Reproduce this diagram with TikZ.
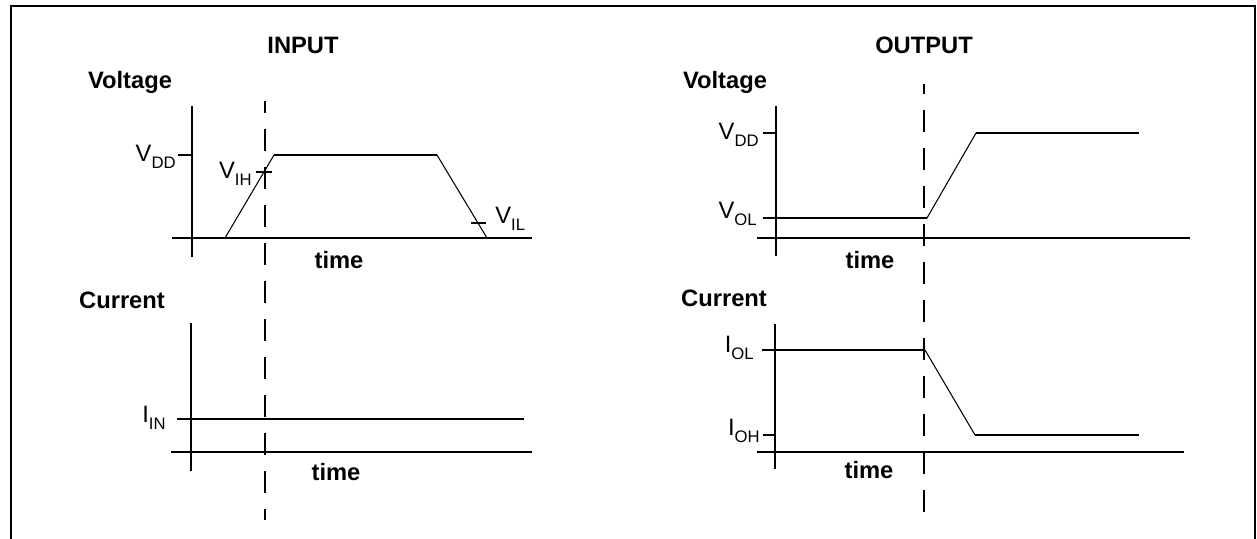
\documentclass[tikz,border=0pt]{standalone}
\usepackage{fontspec}
\setmainfont{Liberation Sans}
\usetikzlibrary{positioning}
\newcommand{\lowsub}[1]{\raisebox{-0.6ex}{\fontsize{9.5}{11}\selectfont #1}}

\begin{document}
\begin{tikzpicture}[x=0.02cm,y=-0.02cm,font=\fontsize{13.5}{16}\selectfont,
  axisline/.style={line width=1.15pt},
  slope/.style={line width=0.6pt},
  marker/.style={line width=1.15pt,dash pattern=on 0.44cm off 0.32cm},
  head/.style={font=\fontsize{13.5}{16}\selectfont\bfseries,inner sep=0pt,anchor=base},
  sig/.style={inner sep=0pt}]
  \useasboundingbox (0,0) rectangle (1257,538);
  % frame
  \draw[axisline] (11,540) -- (11,6) -- (1255,6) -- (1255,540);

  % ---- input side ----
  \node[head] (intitle) at (303,53) {INPUT};
  \node[head] (involt) at (130,88) {Voltage};
  \node[head] (incurr) at (122,308) {Current};
  \node[head] (intimev) at (339,268) {time};
  \node[head] (intimei) at (336,480) {time};

  \draw[axisline] (192,106) -- (192,257);
  \draw[axisline] (172,238) -- (532,238);
  \draw[axisline] (178,155) -- (192,155);
  \draw[slope] (225,238) -- (274,155);
  \draw[axisline] (274,155) -- (437,155);
  \draw[slope] (437,155) -- (487,238);
  \draw[axisline] (256,172) -- (272,172);
  \draw[axisline] (471,223) -- (486,223);
  \node[sig,anchor=base east] (vddin) at (176,161) {V\lowsub{DD}};
  \node[sig,anchor=base east] (vih) at (252,178) {V\lowsub{IH}};
  \node[sig,anchor=base west] (vil) at (495,223) {V\lowsub{IL}};

  \draw[axisline] (191,323) -- (191,471);
  \draw[axisline] (171,452) -- (532,452);
  \draw[axisline] (177,419) -- (524,419);
  \node[sig,anchor=base east] (iin) at (166,422) {I\lowsub{IN}};

  \draw[marker,dash phase=0.2cm] (265,101) -- (265,520);

  % ---- output side ----
  \node[head] (outtitle) at (924,53) {OUTPUT};
  \node[head] (outvolt) at (725,88) {Voltage};
  \node[head] (outcurr) at (724,306) {Current};
  \node[head] (outtimev) at (870,268) {time};
  \node[head] (outtimei) at (869,478) {time};

  \draw[axisline] (776,106) -- (776,256);
  \draw[axisline] (757,238) -- (1190,238);
  \draw[axisline] (763,133) -- (776,133);
  \draw[axisline] (763,218) -- (927,218);
  \draw[slope] (927,218) -- (976,133);
  \draw[axisline] (976,133) -- (1139,133);
  \node[sig,anchor=base east] (vddout) at (759,139) {V\lowsub{DD}};
  \node[sig,anchor=base east] (vol) at (757,218) {V\lowsub{OL}};

  \draw[axisline] (775,324) -- (775,469);
  \draw[axisline] (757,452) -- (1184,452);
  \draw[axisline] (763,435) -- (775,435);
  \draw[axisline] (762,350) -- (925,350);
  \draw[slope] (925,350) -- (975,435);
  \draw[axisline] (975,435) -- (1139,435);
  \node[sig,anchor=base east] (iol) at (754,352) {I\lowsub{OL}};
  \node[sig,anchor=base east] (ioh) at (760,435) {I\lowsub{OH}};

  \draw[marker,dash phase=0.24cm] (924,84) -- (924,514);
\end{tikzpicture}
\end{document}
